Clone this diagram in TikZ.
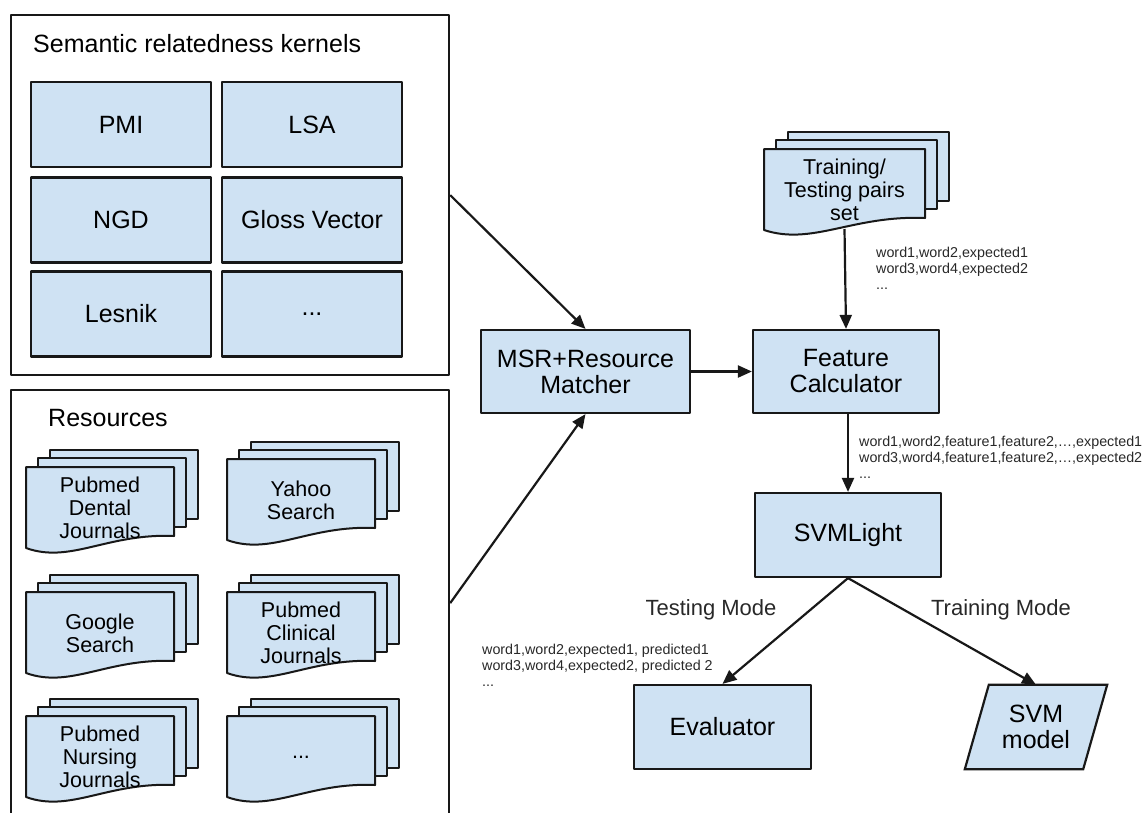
\documentclass[tikz,border=0pt]{standalone}
\usepackage{fontspec}
\setmainfont{Liberation Sans}
\usetikzlibrary{arrows.meta,backgrounds}
\definecolor{boxfill}{RGB}{207,226,243}
\definecolor{ink}{RGB}{24,24,24}
\definecolor{labelink}{RGB}{40,40,40}

% stack of three document sheets: name, left x, top y, width, label
\newcommand\docstack[5]{%
  \begin{scope}[shift={(#2,#3)}]
    \draw[docsheet] (24,-17) rectangle ++(#4,69);
    \draw[docsheet] (12,-9) rectangle ++(#4,69);
    \draw[docsheet] (0,0) -- (#4,0) -- (#4,69)
      .. controls (0.55*#4,66) and (0.3*#4,97) .. (0,81) -- cycle;
    \node[doctext] (#1) at (0.5*#4,41) {#5};
    \coordinate (#1-bottom) at (0.5*#4,80);
  \end{scope}}

\begin{document}
\begin{tikzpicture}[x=1pt,y=-1pt,line join=round,
  frame/.style={draw=ink,line width=2.2pt,inner sep=0pt,anchor=north west},
  box/.style={draw=ink,fill=boxfill,line width=2.2pt,align=center,inner sep=0pt,
    font=\fontsize{25}{26}\selectfont},
  docsheet/.style={draw=ink,fill=boxfill,line width=2pt},
  doctext/.style={align=center,inner sep=0pt,font=\fontsize{21.5}{23}\selectfont},
  paneltitle/.style={inner sep=0pt,anchor=base west,font=\fontsize{25}{26}\selectfont},
  arr/.style={draw=ink,line width=2.2pt,-{Triangle[length=14pt,width=12pt]}},
  datalabel/.style={align=left,inner sep=0pt,anchor=north west,text=labelink,
    font=\fontsize{14.3}{16}\selectfont},
  modelabel/.style={inner sep=0pt,text=labelink,font=\fontsize{22}{23}\selectfont}]
\useasboundingbox (0,0) rectangle (1145,812);

% ---- kernels panel ----
\node[frame,minimum width=438pt,minimum height=360pt] (kern) at (10,14) {};
\node[paneltitle] (kerntitle) at (33,52) {Semantic relatedness kernels};
\node[box,minimum width=180pt,minimum height=85pt] (pmi)   at (121,124.5) {PMI};
\node[box,minimum width=180pt,minimum height=85pt] (lsa)   at (312,124.5) {LSA};
\node[box,minimum width=180pt,minimum height=85pt] (ngd)   at (121,220) {NGD};
\node[box,minimum width=180pt,minimum height=85pt] (gloss) at (312,220) {Gloss Vector};
\node[box,minimum width=180pt,minimum height=85pt] (lesk)  at (121,314) {Lesnik};
\node[box,minimum width=180pt,minimum height=85pt] (kmore) at (312,314) {...};

% ---- resources panel ----
\node[frame,minimum width=438pt,minimum height=426pt] (res) at (10,389) {};
\node[paneltitle] (restitle) at (48,426) {Resources};
\docstack{dental}{26}{467}{148}{Pubmed\\Dental\\Journals}
\docstack{yahoo}{227}{459}{148}{Yahoo\\Search}
\docstack{google}{26}{592}{148}{Google\\Search}
\docstack{clinical}{227}{592}{148}{Pubmed\\Clinical\\Journals}
\docstack{nursing}{26}{716}{148}{Pubmed\\Nursing\\Journals}
\docstack{rmore}{227}{716}{148}{...}

% ---- pipeline ----
\docstack{pairs}{764}{149}{161}{Training/\\Testing pairs\\set}
\node[box,minimum width=209pt,minimum height=83pt] (msr) at (585.5,371.5) {MSR+Resource\\Matcher};
\node[box,minimum width=186pt,minimum height=83pt] (feat) at (846,371.5) {Feature\\Calculator};
\node[box,minimum width=186pt,minimum height=84pt] (svl) at (848,535) {SVMLight};
\node[box,minimum width=177pt,minimum height=84pt] (eval) at (722.5,727) {Evaluator};
\node[align=center,inner sep=0pt,minimum width=118pt,minimum height=84pt,
  font=\fontsize{25}{26}\selectfont] (svm) at (1036,727) {SVM\\model};
\begin{scope}[on background layer]
  \draw[draw=ink,fill=boxfill,line width=2.2pt]
    ([xshift=12pt]svm.north west) -- ([xshift=12pt]svm.north east)
    -- ([xshift=-12pt]svm.south east) -- ([xshift=-12pt]svm.south west) -- cycle;
\end{scope}

% ---- connectors ----
\draw[arr] (kern.east) -- (msr.north);
\draw[arr] (res.east) -- (msr.south);
\draw[arr] (msr.east) -- (feat.west);
\draw[arr] (pairs-bottom) -- (feat.north);
\draw[arr] (feat.south -| svl.north) -- (svl.north);
\draw[arr] (svl.south) -- (eval.north);
\draw[arr] (svl.south) -- (svm.north);

% ---- labels ----
\node[datalabel] (pairsdata) at (876,247) {word1,word2,expected1\\word3,word4,expected2\\...};
\node[datalabel] (featdata) at (859,436) {word1,word2,feature1,feature2,…,expected1\\word3,word4,feature1,feature2,…,expected2\\...};
\node[datalabel] (evaldata) at (482,644) {word1,word2,expected1, predicted1\\word3,word4,expected2, predicted 2\\...};
\node[modelabel] (testmode) at (711,610) {Testing Mode};
\node[modelabel] (trainmode) at (1001,610) {Training Mode};
\end{tikzpicture}
\end{document}
